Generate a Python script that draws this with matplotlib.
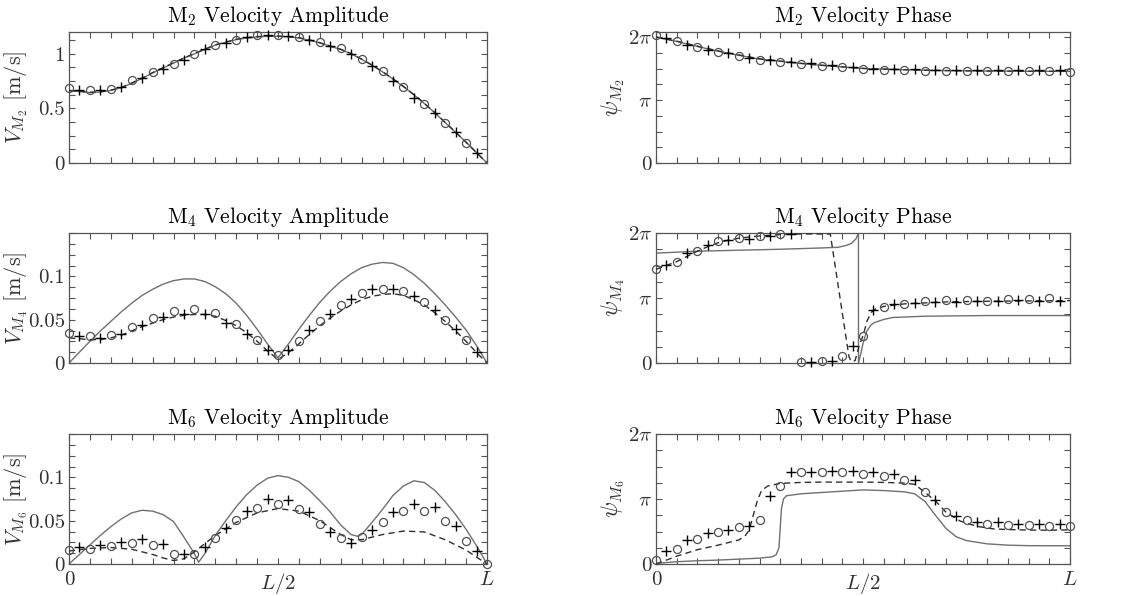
import numpy as np
import matplotlib
matplotlib.use("Agg")
import matplotlib.pyplot as plt

plt.rcParams['font.family'] = ['cmr10', 'DejaVu Serif']
plt.rcParams['mathtext.fontset'] = 'cm'
plt.rcParams['axes.unicode_minus'] = False

PI = np.pi

# ---------------- data (x as fraction of L) ----------------
# marker positions
x_circ = [0.0, 0.05, 0.1, 0.15, 0.2, 0.25, 0.3, 0.35, 0.4, 0.45, 0.5,
          0.55, 0.6, 0.65, 0.7, 0.75, 0.8, 0.85, 0.9, 0.95]
x_circ_full = x_circ + [1.0]
x_plus = [0.025, 0.075, 0.125, 0.175, 0.225, 0.275, 0.325, 0.375, 0.425, 0.475,
          0.525, 0.575, 0.625, 0.675, 0.725, 0.775, 0.825, 0.875, 0.925, 0.975]
x_line = [0.0, 0.025, 0.05, 0.075, 0.1, 0.125, 0.15, 0.175, 0.2, 0.225, 0.25,
          0.275, 0.3, 0.325, 0.35, 0.375, 0.4, 0.425, 0.45, 0.475, 0.5,
          0.525, 0.55, 0.575, 0.6, 0.625, 0.65, 0.675, 0.7, 0.725, 0.75,
          0.775, 0.8, 0.825, 0.85, 0.875, 0.9, 0.925, 0.95, 0.975, 1.0]

# M2 amplitude [m/s]
m2_amp_solid = [0.66, 0.655, 0.645, 0.65, 0.665, 0.69, 0.73, 0.775, 0.825, 0.87, 0.915,
                0.96, 1.0, 1.04, 1.08, 1.105, 1.13, 1.145, 1.155, 1.16, 1.16,
                1.155, 1.145, 1.125, 1.1, 1.07, 1.04, 1.0, 0.95, 0.895, 0.835,
                0.77, 0.70, 0.625, 0.545, 0.46, 0.37, 0.28, 0.19, 0.095, 0.0]
m2_amp_dash = [0.665, 0.658, 0.648, 0.652, 0.667, 0.692, 0.733, 0.778, 0.828, 0.873, 0.918,
               0.962, 1.003, 1.043, 1.083, 1.108, 1.133, 1.148, 1.158, 1.163, 1.163,
               1.158, 1.148, 1.128, 1.102, 1.072, 1.042, 1.002, 0.952, 0.897, 0.837,
               0.772, 0.702, 0.627, 0.547, 0.462, 0.372, 0.282, 0.19, 0.095, 0.0]
m2_amp_circ = [0.69, 0.67, 0.68, 0.76, 0.83, 0.91, 1.0, 1.085, 1.13, 1.17, 1.17,
               1.15, 1.11, 1.055, 0.95, 0.84, 0.70, 0.54, 0.37, 0.185]
m2_amp_plus = [0.67, 0.67, 0.70, 0.78, 0.86, 0.945, 1.04, 1.10, 1.15, 1.17,
               1.165, 1.13, 1.075, 1.0, 0.885, 0.755, 0.60, 0.455, 0.28, 0.09]

# M2 phase [units of pi]
x_m2_ph = [0.0, 0.05, 0.1, 0.15, 0.2, 0.25, 0.3, 0.35, 0.4, 0.45, 0.5,
           0.55, 0.6, 0.65, 0.7, 0.75, 0.8, 0.85, 0.9, 0.95, 1.0]
m2_ph_solid = [2.0, 1.93, 1.85, 1.775, 1.71, 1.65, 1.615, 1.58, 1.55, 1.525, 1.5,
               1.49, 1.48, 1.472, 1.467, 1.463, 1.46, 1.458, 1.456, 1.455, 1.455]
m2_ph_dash = [2.0, 1.935, 1.855, 1.78, 1.715, 1.655, 1.618, 1.583, 1.553, 1.527, 1.503,
              1.492, 1.482, 1.474, 1.468, 1.464, 1.461, 1.459, 1.457, 1.456, 1.456]
m2_ph_circ = [2.04, 1.94, 1.84, 1.76, 1.70, 1.635, 1.61, 1.57, 1.535, 1.52, 1.49,
              1.475, 1.475, 1.46, 1.46, 1.46, 1.46, 1.46, 1.46, 1.46, 1.45]
m2_ph_plus = [1.99, 1.88, 1.80, 1.74, 1.67, 1.635, 1.61, 1.59, 1.555, 1.53,
              1.50, 1.49, 1.49, 1.475, 1.475, 1.475, 1.475, 1.475, 1.475, 1.475]

# M4 amplitude [m/s]
m4_amp_solid = [0.0, 0.0125, 0.025, 0.037, 0.048, 0.059, 0.069, 0.078, 0.085, 0.091, 0.095,
                0.097, 0.097, 0.094, 0.088, 0.08, 0.069, 0.055, 0.039, 0.022, 0.006,
                0.022, 0.039, 0.055, 0.07, 0.083, 0.094, 0.103, 0.11, 0.114, 0.116,
                0.115, 0.11, 0.102, 0.092, 0.08, 0.067, 0.053, 0.038, 0.02, 0.0]
m4_amp_dash = [0.029, 0.028, 0.027, 0.027, 0.029, 0.032, 0.037, 0.042, 0.046, 0.05, 0.053,
               0.055, 0.056, 0.056, 0.054, 0.049, 0.043, 0.035, 0.025, 0.014, 0.004,
               0.012, 0.022, 0.033, 0.043, 0.052, 0.06, 0.067, 0.073, 0.077, 0.079,
               0.08, 0.078, 0.073, 0.067, 0.058, 0.048, 0.037, 0.025, 0.012, 0.0]
m4_amp_circ = [0.0346, 0.0315, 0.0327, 0.042, 0.052, 0.060, 0.0627, 0.0577, 0.045, 0.027,
               0.009, 0.025, 0.049, 0.067, 0.081, 0.085, 0.083, 0.070, 0.050, 0.026]
m4_amp_plus = [0.0315, 0.029, 0.0335, 0.044, 0.053, 0.057, 0.057, 0.046, 0.0335, 0.0146,
               0.0154, 0.038, 0.057, 0.074, 0.085, 0.085, 0.077, 0.0615, 0.039, 0.0127]

# M4 phase [units of pi]
x_m4_ph_solid = [0.0, 0.1, 0.2, 0.3, 0.4, 0.44, 0.46, 0.472, 0.483, 0.489, 0.4891,
                 0.495, 0.5, 0.509, 0.52, 0.527, 0.55, 0.572, 0.65, 0.8, 1.0]
m4_ph_solid = [1.69, 1.72, 1.735, 1.75, 1.77, 1.78, 1.81, 1.84, 1.91, 2.0, 0.0,
               0.15, 0.3, 0.49, 0.59, 0.62, 0.67, 0.70, 0.72, 0.73, 0.73]
x_m4_ph_dash = [0.0, 0.025, 0.05, 0.075, 0.1, 0.125, 0.15, 0.175, 0.2, 0.25, 0.3, 0.35,
                0.421, 0.466, 0.471, 0.476, 0.481, 0.49, 0.5, 0.51, 0.52, 0.53, 0.55,
                0.6, 0.7, 0.8, 0.9, 1.0]
m4_ph_dash = [1.44, 1.5, 1.56, 1.64, 1.72, 1.79, 1.85, 1.89, 1.92, 1.955, 1.975, 1.985,
              1.985, 0.1, 0.03, 0.02, 0.04, 0.25, 0.42, 0.65, 0.78, 0.83, 0.87,
              0.91, 0.94, 0.95, 0.955, 0.96]
m4_ph_circ = [1.45, 1.55, 1.73, 1.87, 1.92, 1.96, 1.985, 0.01, 0.025, 0.11,
              0.41, 0.86, 0.91, 0.96, 0.975, 0.965, 0.96, 0.985, 0.985, 1.0]
m4_ph_plus = [1.51, 1.69, 1.815, 1.9, 1.91, 1.95, 1.99, 0.01, 0.035, 0.26,
              0.81, 0.91, 0.93, 0.94, 0.94, 0.95, 0.95, 0.975, 0.95, 0.96]

# M6 amplitude [m/s]
x_m6_amp_solid = [0.0, 0.025, 0.05, 0.075, 0.1, 0.125, 0.15, 0.175, 0.2, 0.225, 0.25,
                  0.275, 0.3, 0.31, 0.325, 0.35, 0.375, 0.4, 0.425, 0.45, 0.475, 0.5,
                  0.525, 0.55, 0.575, 0.6, 0.625, 0.65, 0.675, 0.69, 0.7, 0.725, 0.75,
                  0.775, 0.8, 0.825, 0.85, 0.875, 0.9, 0.925, 0.95, 0.975, 1.0]
m6_amp_solid = [0.0, 0.011, 0.022, 0.033, 0.043, 0.052, 0.059, 0.062, 0.061, 0.057, 0.049,
                0.031, 0.012, 0.002, 0.012, 0.033, 0.05, 0.066, 0.08, 0.091, 0.099, 0.102,
                0.1, 0.095, 0.085, 0.073, 0.06, 0.045, 0.034, 0.032, 0.034, 0.048, 0.063,
                0.079, 0.09, 0.096, 0.094, 0.085, 0.072, 0.057, 0.04, 0.021, 0.0]
x_m6_amp_dash = [0.0, 0.05, 0.1, 0.15, 0.2, 0.225, 0.25, 0.275, 0.3, 0.35, 0.4, 0.45, 0.5,
                 0.55, 0.6, 0.65, 0.675, 0.7, 0.75, 0.8, 0.85, 0.9, 0.95, 1.0]
m6_amp_dash = [0.015, 0.018, 0.019, 0.017, 0.011, 0.007, 0.004, 0.006, 0.014, 0.033, 0.048,
               0.059, 0.064, 0.061, 0.05, 0.034, 0.028, 0.028, 0.034, 0.038, 0.037, 0.028,
               0.016, 0.0]
m6_amp_circ = [0.0162, 0.017, 0.0208, 0.024, 0.022, 0.0116, 0.0116, 0.0297, 0.051, 0.0645,
               0.069, 0.063, 0.046, 0.0297, 0.0317, 0.0479, 0.0614, 0.0614, 0.050, 0.0266, 0.0]
m6_amp_plus = [0.020, 0.022, 0.0259, 0.029, 0.0232, 0.0116, 0.020, 0.042, 0.0606, 0.075,
               0.074, 0.0595, 0.0375, 0.024, 0.039, 0.0595, 0.0695, 0.0656, 0.044, 0.0154]

# M6 phase [units of pi]
x_m6_ph_solid = [0.0, 0.05, 0.1, 0.15, 0.2, 0.25, 0.28, 0.29, 0.297, 0.3, 0.303, 0.308,
                 0.315, 0.35, 0.4, 0.45, 0.5, 0.55, 0.6, 0.625, 0.65, 0.675, 0.7, 0.725,
                 0.75, 0.8, 0.85, 0.9, 1.0]
m6_ph_solid = [0.01, 0.035, 0.05, 0.06, 0.075, 0.09, 0.11, 0.14, 0.25, 0.55, 0.85, 1.0,
               1.05, 1.08, 1.1, 1.12, 1.14, 1.13, 1.11, 1.08, 0.96, 0.75, 0.55, 0.42,
               0.36, 0.31, 0.29, 0.282, 0.28]
x_m6_ph_dash = [0.0, 0.05, 0.1, 0.15, 0.2, 0.215, 0.225, 0.235, 0.245, 0.255, 0.27, 0.3,
                0.35, 0.4, 0.5, 0.55, 0.6, 0.625, 0.65, 0.675, 0.7, 0.735, 0.775, 0.815,
                0.85, 0.9, 0.95, 1.0]
m6_ph_dash = [0.0, 0.12, 0.22, 0.29, 0.37, 0.43, 0.52, 0.75, 0.98, 1.13, 1.2, 1.24,
              1.255, 1.26, 1.26, 1.255, 1.245, 1.225, 1.1, 0.97, 0.8, 0.66, 0.58, 0.54,
              0.53, 0.522, 0.52, 0.525]
m6_ph_circ = [0.06, 0.23, 0.38, 0.49, 0.57, 0.67, 1.2, 1.41, 1.41, 1.42, 1.38,
              1.35, 1.29, 1.11, 0.80, 0.67, 0.615, 0.605, 0.605, 0.59, 0.58]
m6_ph_plus = [0.2, 0.37, 0.475, 0.527, 0.58, 1.04, 1.41, 1.42, 1.43, 1.43,
              1.42, 1.39, 1.29, 0.98, 0.74, 0.64, 0.64, 0.615, 0.615, 0.615]

titles = [["M$_2$ Velocity Amplitude", "M$_2$ Velocity Phase"],
          ["M$_4$ Velocity Amplitude", "M$_4$ Velocity Phase"],
          ["M$_6$ Velocity Amplitude", "M$_6$ Velocity Phase"]]
amp_labels = [r"$V_{M_2}$ [m/s]", r"$V_{M_4}$ [m/s]", r"$V_{M_6}$ [m/s]"]
ph_labels = [r"$\psi_{M_2}$", r"$\psi_{M_4}$", r"$\psi_{M_6}$"]
x_tick_labels = ["0", r"$L/2$", r"$L$"]

# ---------------- styling ----------------
W, H = 1125, 596
fig = plt.figure(figsize=(W / 100, H / 100), dpi=100)

SOLID = dict(color='#707070', lw=1.0, zorder=2)
DASH = dict(color='#303030', lw=1.0, ls=(0, (4.5, 3.0)), zorder=3)
CIRC = dict(ls='none', marker='o', ms=5.8, mfc='none', mec='#505050', mew=0.9,
            zorder=4, clip_on=False)
PLUS = dict(ls='none', marker='+', ms=7, color='k', mew=1.0, zorder=5, clip_on=False)
SPINE = '#555555'
TICKLAB = 15

left_px = [(69, 487), (656, 1070)]
rows_px = [(32, 163), (233, 363), (434, 564)]


def make_ax(col, row):
    x0, x1 = left_px[col]
    t, b = rows_px[row]
    return fig.add_axes([x0 / W, 1 - b / H, (x1 - x0) / W, (b - t) / H])


def style(ax, last_row):
    for s in ax.spines.values():
        s.set_color(SPINE)
        s.set_linewidth(0.9)
    ax.tick_params(direction='in', top=True, right=True, length=4, width=0.8,
                   color=SPINE, labelsize=TICKLAB, labelcolor='#333333', pad=3)
    xt = np.round(np.arange(0, 1.0001, 0.05), 3)
    ax.set_xticks(xt)
    ax.set_xlim(0, 1)
    if last_row:
        ax.set_xticklabels([x_tick_labels[0] if v == 0 else x_tick_labels[1] if v == 0.5
                            else x_tick_labels[2] if v == 1 else '' for v in xt])
        ax.tick_params(axis='x', pad=5)
    else:
        ax.set_xticklabels([])


amp_data = [
    (x_line, m2_amp_solid, x_line, m2_amp_dash, x_circ, m2_amp_circ, x_plus, m2_amp_plus),
    (x_line, m4_amp_solid, x_line, m4_amp_dash, x_circ, m4_amp_circ, x_plus, m4_amp_plus),
    (x_m6_amp_solid, m6_amp_solid, x_m6_amp_dash, m6_amp_dash, x_circ_full, m6_amp_circ,
     x_plus, m6_amp_plus),
]
ph_data = [
    (x_m2_ph, m2_ph_solid, x_m2_ph, m2_ph_dash, x_circ_full, m2_ph_circ, x_plus, m2_ph_plus),
    (x_m4_ph_solid, m4_ph_solid, x_m4_ph_dash, m4_ph_dash, x_circ, m4_ph_circ, x_plus, m4_ph_plus),
    (x_m6_ph_solid, m6_ph_solid, x_m6_ph_dash, m6_ph_dash, x_circ_full, m6_ph_circ,
     x_plus, m6_ph_plus),
]

for r in range(3):
    # amplitude
    ax = make_ax(0, r)
    xs, ys, xd, yd, xc, yc, xp, yp = amp_data[r]
    ax.plot(xs, ys, **SOLID)
    ax.plot(xd, yd, **DASH)
    ax.plot(xc, yc, **CIRC)
    ax.plot(xp, yp, **PLUS)
    style(ax, r == 2)
    if r == 0:
        ax.set_ylim(0, 1.2)
        yt = np.round(np.arange(0, 1.2, 0.125), 4)
        lab = {0.0: '0', 0.5: '0.5', 1.0: '1'}
    else:
        ax.set_ylim(0, 0.15)
        yt = np.round(np.arange(0, 0.1500001, 0.0125), 5)
        lab = {0.0: '0', 0.05: '0.05', 0.1: '0.1'}
    ax.set_yticks(yt)
    ax.set_yticklabels([lab.get(float(v), '') for v in yt])
    ax.set_ylabel(amp_labels[r], fontsize=16, color='#333333')
    ax.yaxis.set_label_coords(-0.094, 0.5)
    ax.set_title(titles[r][0], fontsize=15.5, pad=7)

    # phase
    ax = make_ax(1, r)
    xs, ys, xd, yd, xc, yc, xp, yp = ph_data[r]
    ax.plot(np.array(xs), np.array(ys) * PI, **SOLID)
    ax.plot(np.array(xd), np.array(yd) * PI, **DASH)
    ax.plot(np.array(xc), np.array(yc) * PI, **CIRC)
    ax.plot(np.array(xp), np.array(yp) * PI, **PLUS)
    style(ax, r == 2)
    ax.set_ylim(0, (2.08 if r == 0 else 2.0) * PI)
    yt = np.arange(0, 9) * PI / 4
    ax.set_yticks(yt)
    ax.set_yticklabels(['0', '', '', '', r'$\pi$', '', '', '', r'$2\pi$'])
    ax.set_ylabel(ph_labels[r], fontsize=17, color='#333333')
    ax.yaxis.set_label_coords(-0.07, 0.5)
    ax.set_title(titles[r][1], fontsize=15.5, pad=7)

fig.savefig("out.png", dpi=100)
